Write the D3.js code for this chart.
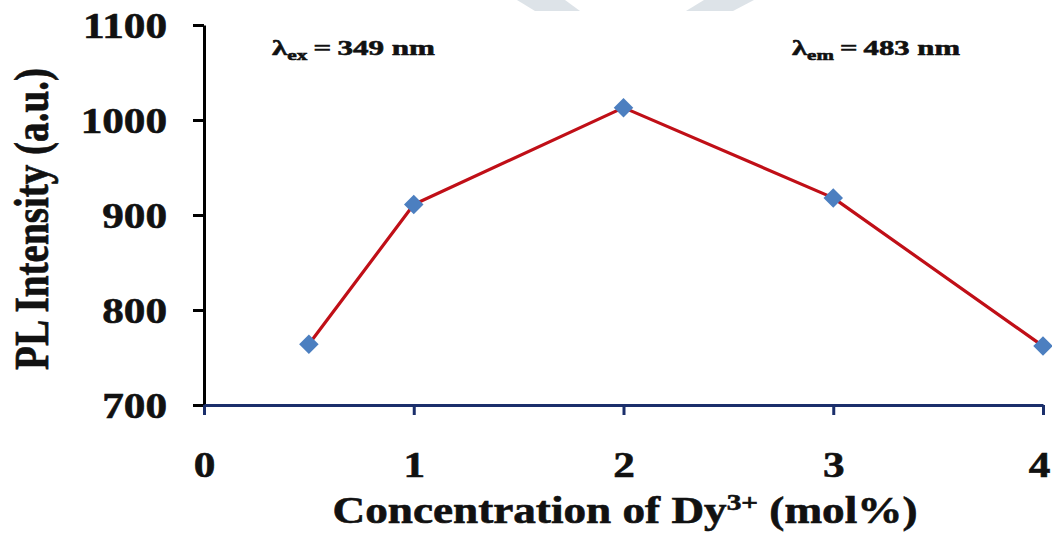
<!DOCTYPE html>
<html>
<head>
<meta charset="utf-8">
<script src="https://cdn.jsdelivr.net/npm/d3@7"></script>
<style>
  html, body { margin: 0; padding: 0; background: #ffffff; }
  svg { display: block; }
  text {
    font-family: "Liberation Serif", "Times New Roman", serif;
    font-weight: bold;
    fill: #111;
    stroke: #111;
    stroke-width: 0.6px;
  }
</style>
</head>
<body>
<svg id="chart" width="1052" height="535"></svg>
<script>
// Dy3+ doping concentration (mol%) and PL emission intensity (a.u.)
const concentrations = [0.5, 1, 2, 3, 4];
const intensities = [764, 911, 1013, 918, 762];
const xTicks = [0, 1, 2, 3, 4];
const yTicks = [700, 800, 900, 1000, 1100];

const svg = d3.select("#chart");
const stretch = 1.2; // glyphs are rendered slightly wide

const x = d3.scaleLinear().domain([0, 4]).range([204, 1043]);
const y = d3.scaleLinear().domain([700, 1100]).range([405, 25]);

// faint header band decoration
svg.append("g").attr("fill", "#dde3e8")
  .selectAll("path")
  .data([
    [[517, 0], [565, 0], [580, 11], [535, 11]],
    [[704, 0], [754, 0], [733, 11], [686, 11]]
  ])
  .join("path")
  .attr("d", d => "M" + d.join("L") + "Z");

// y axis (black)
const yAxis = svg.append("g")
  .attr("transform", `translate(${x(0)},0)`)
  .call(d3.axisLeft(y).tickValues(yTicks).tickSize(11).tickSizeOuter(0).tickFormat(d3.format("d")));
yAxis.select(".domain").attr("stroke", "#000").attr("stroke-width", 3);
yAxis.selectAll(".tick line").attr("stroke", "#000").attr("stroke-width", 3);
yAxis.selectAll(".tick text")
  .attr("x", 0).attr("dy", "0.34em")
  .attr("transform", `translate(-37,0) scale(${stretch},1)`)
  .attr("text-anchor", "end")
  .style("font-size", "36px")
  .attr("fill", "#111");

// x axis (navy)
const xAxis = svg.append("g")
  .attr("transform", `translate(0,${y(700)})`)
  .call(d3.axisBottom(x).tickValues(xTicks).tickSize(10).tickSizeOuter(0).tickFormat(d3.format("d")));
xAxis.select(".domain").attr("stroke", "#1b2f6b").attr("stroke-width", 3);
xAxis.selectAll(".tick line").attr("stroke", "#1b2f6b").attr("stroke-width", 3);
xAxis.selectAll(".tick text")
  .attr("y", 0).attr("dy", 0)
  // the last label sits at the right edge, so nudge it inward
  .attr("transform", (d, i, n) => `translate(${i === n.length - 1 ? -4 : 0},72) scale(${stretch},1)`)
  .attr("text-anchor", "middle")
  .style("font-size", "36px")
  .attr("fill", "#111");

// data line
const points = concentrations.map((c, i) => [c, intensities[i]]);
svg.append("path")
  .datum(points)
  .attr("fill", "none")
  .attr("stroke", "#c00f17")
  .attr("stroke-width", 3.2)
  .attr("stroke-linejoin", "round")
  .attr("d", d3.line().x(d => x(d[0])).y(d => y(d[1])));

// diamond markers
svg.append("g").selectAll("path")
  .data(points)
  .join("path")
  .attr("d", d3.symbol(d3.symbolSquare, 190))
  .attr("transform", d => `translate(${x(d[0])},${y(d[1])}) rotate(45)`)
  .attr("fill", "#4c7fc0");

// y axis title
svg.append("text")
  .attr("transform", `translate(48,219) scale(${stretch},1) rotate(-90)`)
  .attr("text-anchor", "middle")
  .attr("textLength", 302)
  .attr("lengthAdjust", "spacingAndGlyphs")
  .style("font-size", "40px")
  .text("PL Intensity (a.u.)");

// x axis title with superscript
const xTitle = svg.append("text")
  .attr("transform", `translate(625,523) scale(${stretch},1)`)
  .attr("text-anchor", "middle")
  .attr("textLength", 585 / stretch)
  .attr("lengthAdjust", "spacingAndGlyphs")
  .style("font-size", "37px");
xTitle.append("tspan").text("Concentration of Dy");
xTitle.append("tspan").attr("dy", -13).style("font-size", "24px").text("3+");
xTitle.append("tspan").attr("dy", 13).text(" (mol%)");

// wavelength annotations
function lambdaLabel(left, right, sub, rest) {
  const t = svg.append("text")
    .attr("transform", `translate(${left},55) scale(${stretch},1)`)
    .attr("textLength", (right - left) / stretch)
    .attr("lengthAdjust", "spacingAndGlyphs")
    .style("font-size", "22px");
  t.append("tspan").text("λ");
  t.append("tspan").attr("dy", 5).style("font-size", "15px").text(sub);
  t.append("tspan").attr("dy", -5).text(rest);
}
lambdaLabel(272, 435, "ex", "\u2009=\u2009349 nm");
lambdaLabel(792, 960, "em", "\u2009=\u2009483 nm");
</script>
</body>
</html>
